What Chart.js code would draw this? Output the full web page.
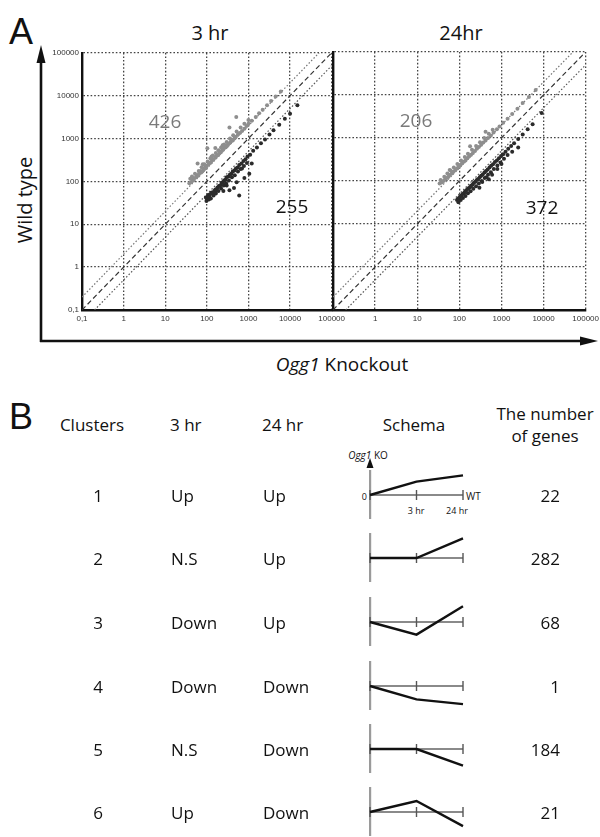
<!DOCTYPE html>
<html>
<head>
<meta charset="utf-8">
<script src="https://cdn.jsdelivr.net/npm/chart.js@4.4.1/dist/chart.umd.min.js"></script>
<style>
  html, body { margin: 0; padding: 0; background: #fff; overflow: hidden; }
  #page { position: relative; width: 600px; height: 837px; font-family: "Open Sans", sans-serif; color: #111; }
  .t { position: absolute; white-space: nowrap; line-height: 1; }
  .c { transform: translate(-50%, -50%); }
  .l { transform: translateY(-50%); }
  .r { transform: translate(-100%, -50%); }
  canvas { position: absolute; }
  svg { position: absolute; left: 0; top: 0; pointer-events: none; }
</style>
</head>
<body>
<div id="page">
  <div class="t" style="left:9px;top:11px;font:36px 'Liberation Sans',sans-serif">A</div>
  <div class="t c" style="left:210px;top:33px;font-size:20px">3 hr</div>
  <div class="t c" style="left:461px;top:33px;font-size:20px">24hr</div>
  <div class="t c" style="left:25px;top:200px;font-size:20px;transform:translate(-50%,-50%) rotate(-90deg)">Wild type</div>
  <div class="t c" style="left:342px;top:364px;font-size:19px"><i>Ogg1</i> Knockout</div>

  <canvas id="wt3" width="309" height="281" style="left:40px;top:45px"></canvas>
  <canvas id="wt24" width="275" height="281" style="left:328px;top:45px"></canvas>

  <div class="t" style="left:9px;top:396px;font:36px 'Liberation Sans',sans-serif">B</div>
  <div class="t c" style="left:92px;top:424px;font-size:17px">Clusters</div>
  <div class="t l" style="left:170px;top:424px;font-size:17px">3 hr</div>
  <div class="t l" style="left:262px;top:424px;font-size:17px">24 hr</div>
  <div class="t c" style="left:414px;top:424px;font-size:17px">Schema</div>
  <div class="t c" style="left:545px;top:413px;font-size:17px">The number</div>
  <div class="t c" style="left:545px;top:435px;font-size:17px">of genes</div>

  <div class="t c" style="left:368px;top:455px;font-size:10px"><i>Ogg1</i> KO</div>
  <div class="t r" style="left:367px;top:496px;font-size:9px">0</div>
  <div class="t l" style="left:466px;top:496px;font-size:10px">WT</div>
  <div class="t c" style="left:416px;top:510px;font-size:9px">3 hr</div>
  <div class="t c" style="left:457px;top:510px;font-size:9px">24 hr</div>

  <svg width="600" height="837">
    <line x1="41" y1="342" x2="41" y2="58" stroke="#111" stroke-width="2.6"/>
    <polygon points="41,45 36.5,63 45.5,63" fill="#111"/>
    <line x1="40" y1="341" x2="584" y2="341" stroke="#111" stroke-width="2.6"/>
    <polygon points="598,341 580,336.5 580,345.5" fill="#111"/>
    <polygon points="370,458 366.5,468 373.5,468" fill="#111"/>
  </svg>
</div>

<script>
// axis decades and their printed labels
const decades = [0.1, 1, 10, 100, 1000, 10000, 100000];
const decadeText = ['0,1', '1', '10', '100', '1000', '10000', '100000'];

// 3 hr: genes higher in wild type (grey) and higher in knockout (black)
const ko3Up = [38, 42, 45, 48, 50, 55, 58, 62, 65, 70, 72, 78, 85, 90, 95, 100, 110, 118, 125, 135, 145, 160, 170, 185, 200, 215, 230, 250, 270, 300, 320, 350, 380, 420, 460, 500, 560, 620, 700, 800, 900, 1000, 1200, 1500, 1800, 2200, 2800, 3500, 4500, 6000,
  510, 350, 103, 160, 60, 44, 80, 240, 130,
  40, 52, 64, 75, 88, 105, 122, 140, 165, 190, 220, 260, 300, 360, 430, 520, 650, 800, 1000];
const wt3Up = [90, 95, 110, 105, 118, 125, 140, 135, 150, 160, 175, 170, 190, 210, 205, 230, 250, 270, 280, 310, 330, 360, 390, 410, 450, 480, 520, 560, 620, 650, 720, 780, 850, 900, 1000, 1100, 1250, 1350, 1500, 1700, 1950, 2200, 2600, 3200, 3900, 4700, 6000, 7500, 9500, 12500,
  3200, 1800, 590, 600, 260, 130, 250, 700, 380,
  115, 150, 175, 215, 250, 290, 345, 400, 460, 530, 620, 730, 830, 1000, 1200, 1450, 1800, 2200, 2700];
const ko3Down = [95, 100, 105, 110, 115, 120, 130, 140, 150, 160, 170, 180, 195, 210, 225, 240, 260, 280, 300, 330, 360, 390, 420, 460, 500, 550, 600, 680, 760, 850, 950, 1100, 1300, 1600, 2000, 2500, 3200, 4000, 5500, 7500, 10000, 15000,
  350, 600, 1050, 520, 300, 450, 800, 700, 1200, 250,
  98, 112, 125, 145, 165, 190, 220, 255, 290, 340, 400, 470, 560, 650, 780, 920];
const wt3Down = [42, 40, 45, 48, 44, 50, 55, 52, 60, 65, 62, 72, 78, 80, 92, 95, 105, 110, 125, 130, 145, 150, 170, 180, 200, 210, 240, 260, 300, 330, 380, 420, 520, 620, 780, 950, 1250, 1550, 2100, 2900, 3800, 6000,
  62, 47, 150, 95, 80, 70, 120, 200, 260, 60,
  35, 38, 40, 47, 52, 60, 68, 80, 90, 105, 125, 140, 170, 195, 230, 270];

// 24 hr
const ko24Up = [34, 38, 42, 46, 50, 55, 60, 66, 72, 80, 88, 96, 105, 115, 128, 140, 155, 170, 190, 210, 235, 260, 290, 330, 370, 420, 480, 560, 650, 780, 900, 1100, 1400, 1800, 2400, 3200, 4500, 6500,
  59, 180, 420,
  36, 44, 52, 62, 74, 90, 110, 135, 160, 200, 250, 310, 390, 500, 620];
const wt24Up = [88, 92, 100, 110, 118, 125, 140, 150, 165, 180, 195, 215, 230, 255, 280, 300, 340, 370, 410, 450, 500, 560, 620, 700, 790, 880, 1000, 1150, 1350, 1600, 1850, 2250, 2800, 3600, 4800, 6500, 9000, 13000,
  180, 640, 1400,
  105, 125, 150, 175, 205, 250, 300, 360, 430, 530, 650, 800, 1000, 1250, 1550];
const ko24Down = [88, 92, 98, 105, 112, 120, 128, 136, 145, 155, 165, 178, 190, 205, 220, 240, 260, 280, 305, 330, 360, 395, 430, 470, 520, 570, 630, 700, 780, 870, 980, 1100, 1250, 1450, 1700, 2000, 2500, 3200, 4200, 5500, 9000,
  440, 600, 800, 350, 1000, 1800, 2500, 500, 300,
  95, 108, 122, 140, 160, 185, 215, 250, 290, 340, 400, 480, 560, 660, 800, 950, 1150, 1400];
const wt24Down = [36, 38, 40, 44, 46, 50, 52, 56, 60, 64, 68, 72, 78, 82, 90, 96, 105, 112, 122, 132, 142, 158, 170, 185, 205, 225, 245, 275, 300, 340, 380, 420, 480, 560, 650, 760, 950, 1200, 1600, 2100, 3800,
  123, 140, 190, 95, 250, 480, 600, 110, 70,
  32, 36, 40, 45, 52, 58, 66, 76, 88, 100, 118, 140, 160, 190, 230, 270, 330, 400];

// reference lines: equal, 2-fold up, 2-fold down
const lineEqual = [{x: 0.1, y: 0.1}, {x: 100000, y: 100000}];
const lineFoldUp = [{x: 0.1, y: 0.2}, {x: 50000, y: 100000}];
const lineFoldDown = [{x: 0.2, y: 0.1}, {x: 100000, y: 50000}];

const regCounts = [
  {up: '426', down: '255'},
  {up: '206', down: '372'}
];

// panel B table
const clusters = ['1', '2', '3', '4', '5', '6'];
const at3hr = ['Up', 'N.S', 'Down', 'Down', 'N.S', 'Up'];
const at24hr = ['Up', 'Up', 'Up', 'Down', 'Down', 'Down'];
const geneCounts = [22, 282, 68, 1, 184, 21];
const schemaX = ['0', '3 hr', '24 hr'];
const schema3 = [17, 0, -16, -17, 0, 14];
const schema24 = [25, 25, 20, -23, -21, -18];

const zip = (xs, ys) => xs.map((x, i) => ({x: x, y: ys[i]}));

function logAxis(showLabels, hideFirst, horizontal) {
  return {
    type: 'logarithmic',
    min: 0.1,
    max: 100000,
    afterBuildTicks: s => { s.ticks = decades.map(v => ({value: v})); },
    afterFit: s => {
      if (horizontal) s.height = 16;
      else s.width = showLabels ? 42 : 0;
    },
    ticks: {
      display: showLabels,
      autoSkip: false,
      maxRotation: 0,
      padding: horizontal ? 4 : 3,
      color: '#333',
      font: {family: 'Liberation Sans', size: 8},
      callback: (v, i) => (hideFirst && i === 0) ? '' : decadeText[i]
    },
    grid: {color: '#444', lineWidth: 1.3, drawTicks: false},
    border: {display: true, color: '#111', width: 2.4, dash: [1.6, 2]}
  };
}

function scatterPanel(id, up, down, first, padding) {
  new Chart(document.getElementById(id), {
    type: 'scatter',
    data: {
      datasets: [
        {data: down, backgroundColor: '#2b2b2b', pointRadius: 2, borderWidth: 0},
        {data: up, backgroundColor: '#8e8e8e', pointRadius: 2, borderWidth: 0},
        {data: lineEqual, showLine: true, borderColor: '#333', borderWidth: 1.2, borderDash: [5, 3], pointRadius: 0},
        {data: lineFoldUp, showLine: true, borderColor: '#777', borderWidth: 1.2, borderDash: [1.5, 2], pointRadius: 0},
        {data: lineFoldDown, showLine: true, borderColor: '#555', borderWidth: 1.2, borderDash: [1.5, 2], pointRadius: 0}
      ]
    },
    options: {
      responsive: false,
      animation: false,
      events: [],
      layout: {padding: padding},
      plugins: {legend: {display: false}, tooltip: {enabled: false}},
      scales: {
        x: logAxis(true, !first, true),
        y: logAxis(first, false, false)
      }
    }
  });
}

scatterPanel('wt3', zip(ko3Up, wt3Up), zip(ko3Down, wt3Down), true, {top: 7, right: 16, left: 0, bottom: 0});
scatterPanel('wt24', zip(ko24Up, wt24Up), zip(ko24Down, wt24Down), false, {top: 7, right: 16, left: 5, bottom: 0});

// count labels inside panel A
const page = document.getElementById('page');
function addText(html, css) {
  const d = document.createElement('div');
  d.className = 't ' + (css.cls || 'c');
  d.innerHTML = html;
  d.style.cssText = css.style;
  page.appendChild(d);
}
addText(regCounts[0].up, {style: 'left:165px;top:121px;font-size:19px;color:#7a7a7a'});
addText(regCounts[0].down, {style: 'left:292px;top:206px;font-size:19px'});
addText(regCounts[1].up, {style: 'left:416px;top:120px;font-size:19px;color:#7a7a7a'});
addText(regCounts[1].down, {style: 'left:542px;top:207px;font-size:19px'});

// panel B rows
const rowY = [495, 558, 622, 686, 749, 812];
clusters.forEach((c, i) => {
  const y = rowY[i];
  addText(c, {style: 'left:98px;top:' + y + 'px;font-size:17px'});
  addText(at3hr[i], {cls: 'l', style: 'left:171px;top:' + y + 'px;font-size:17px'});
  addText(at24hr[i], {cls: 'l', style: 'left:263px;top:' + y + 'px;font-size:17px'});
  addText(String(geneCounts[i]), {cls: 'r', style: 'left:560px;top:' + y + 'px;font-size:17px'});

  const cv = document.createElement('canvas');
  cv.width = 130;
  cv.height = 60;
  cv.style.left = '350px';
  cv.style.top = (y - 30) + 'px';
  page.insertBefore(cv, page.querySelector('svg'));
  new Chart(cv, {
    type: 'line',
    data: {
      labels: schemaX,
      datasets: [
        {data: [0, schema3[i], schema24[i]], borderColor: '#111', borderWidth: 2.4, pointRadius: 0, tension: 0, clip: false},
        {data: [0, 0, 0], borderColor: '#8a8a8a', borderWidth: 2, pointStyle: 'line', rotation: 90,
         pointRadius: 5, pointBorderColor: '#555', pointBorderWidth: 1.4, clip: false}
      ]
    },
    options: {
      responsive: false,
      animation: false,
      events: [],
      layout: {padding: {left: 20, right: 17, top: 0, bottom: 0}},
      plugins: {legend: {display: false}, tooltip: {enabled: false}},
      scales: {
        x: {display: false, offset: false},
        y: {
          min: -30, max: 30,
          ticks: {display: false},
          grid: {display: false, drawTicks: false},
          border: {display: true, color: '#9a9a9a', width: 2.2},
          afterFit: s => { s.width = 0; }
        }
      }
    }
  });
});
</script>
</body>
</html>
